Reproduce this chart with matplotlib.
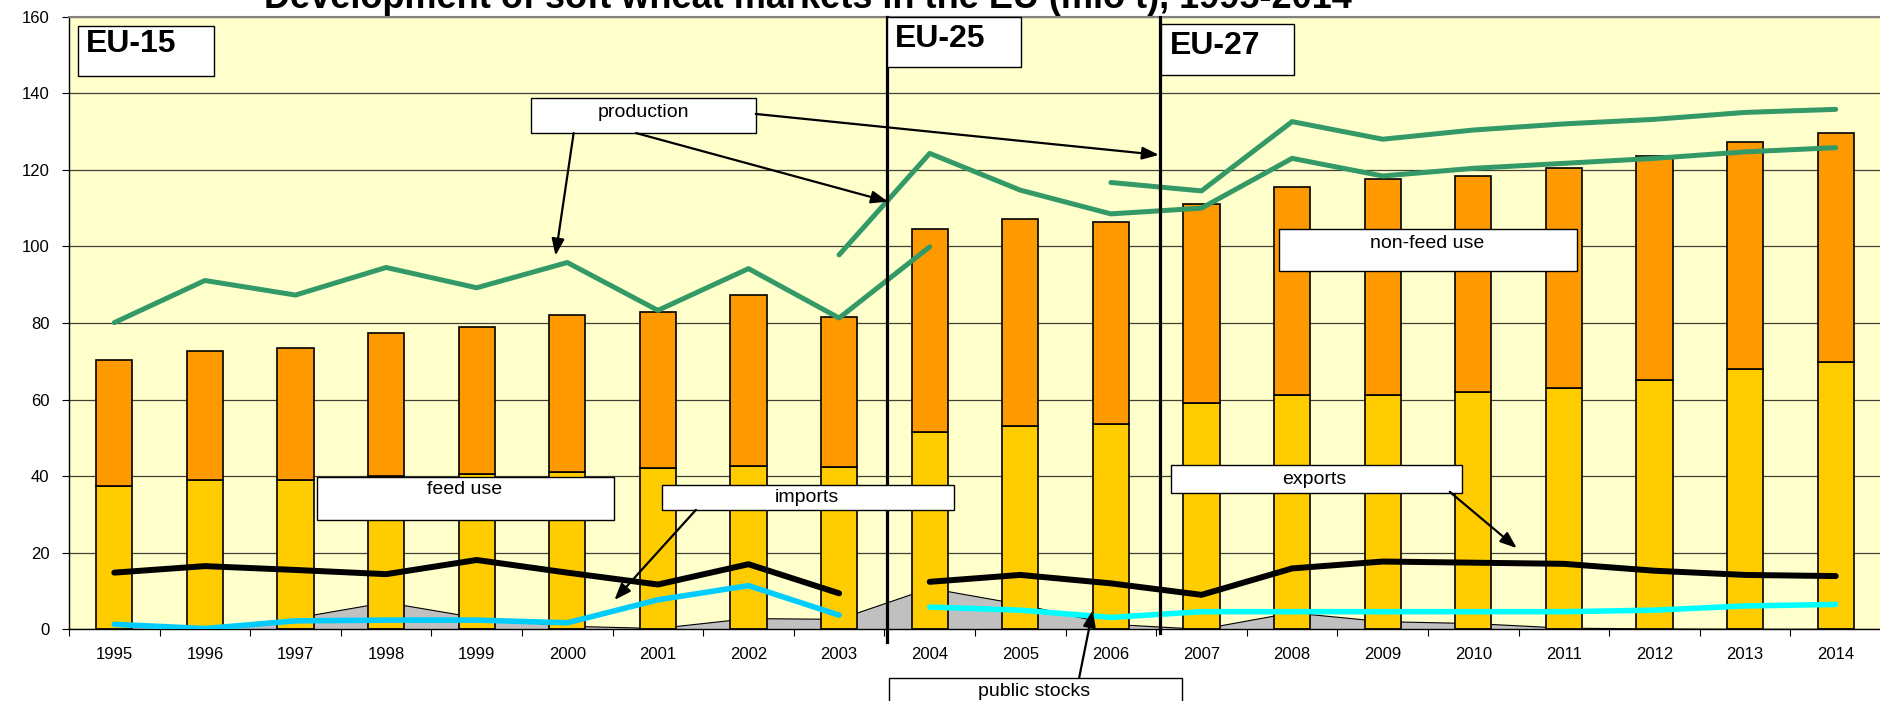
import numpy as np
import matplotlib
matplotlib.use("Agg")
import matplotlib.pyplot as plt
from matplotlib.patches import Rectangle

plt.rcParams['font.family'] = ['Liberation Sans', 'DejaVu Sans']

years = [str(y) for y in range(1995, 2015)]
feed_use = [37.5, 39.0, 39.0, 40.0, 40.5, 41.0, 42.0, 42.7, 42.5, 51.5,
            53.0, 53.5, 59.0, 61.3, 61.3, 62.0, 63.0, 65.0, 68.0, 69.8]
nonfeed_use = [32.9, 33.7, 34.5, 37.5, 38.5, 41.2, 41.0, 44.5, 39.1, 53.0,
               54.1, 52.8, 52.0, 54.3, 56.2, 56.4, 57.6, 58.5, 59.3, 59.7]
public_stocks = [0.0, 0.0, 2.9, 7.0, 3.0, 0.8, 0.2, 2.8, 2.6, 10.7,
                 6.5, 1.3, 0.0, 4.3, 2.0, 1.5, 0.3, 0.1, 0.0, 0.0]

prod_eu15 = [80.1, 91.1, 87.3, 94.5, 89.2, 95.8, 83.3, 94.2, 81.3, 99.9]   # 1995-2004
prod_eu25 = [97.8, 124.3, 114.7, 108.5, 110.0, 123.0, 118.4, 120.4,
             121.7, 123.0, 124.7, 125.8]                                   # 2003-2014
prod_eu27 = [116.7, 114.5, 132.6, 128.0, 130.4, 132.0, 133.2, 135.0, 135.8]  # 2006-2014

exports_eu15 = [14.8, 16.5, 15.5, 14.4, 18.1, 14.8, 11.7, 17.0, 9.4]      # 1995-2003
exports_eu27 = [12.4, 14.2, 12.0, 9.0, 15.9, 17.7, 17.4, 17.1, 15.3, 14.2, 13.9]  # 2004-2014
imports_eu15 = [1.3, 0.2, 2.2, 2.4, 2.4, 1.7, 7.7, 11.4, 3.7]
imports_eu27 = [5.8, 5.0, 3.1, 4.6, 4.6, 4.6, 4.6, 4.6, 5.0, 6.1, 6.5]

x = np.arange(len(years))

fig = plt.figure(figsize=(18.81, 7.01), dpi=100)
ax = fig.add_axes([69 / 1881, 1 - 629.3 / 701, 1 - 69 / 1881, (629.3 - 16.7) / 701])
ax.set_facecolor('#FFFFCC')

# public stocks area (behind bars)
ax.fill_between(x, public_stocks, 0, facecolor='#C0C0C0', edgecolor='none', zorder=1)
ax.plot(x, public_stocks, color='black', lw=0.8, zorder=1.1)

# stacked bars
ax.bar(x, feed_use, width=0.4, color='#FFCC00', edgecolor='black', lw=1.2, zorder=2)
ax.bar(x, nonfeed_use, width=0.4, bottom=feed_use, color='#FF9900',
       edgecolor='black', lw=1.2, zorder=2)

# lines
green = '#339966'
ax.plot(x[0:10], prod_eu15, color=green, lw=3.6, solid_capstyle='round', zorder=3)
ax.plot(x[8:], prod_eu25, color=green, lw=3.6, solid_capstyle='round', zorder=3)
ax.plot(x[11:], prod_eu27, color=green, lw=3.6, solid_capstyle='round', zorder=3)
ax.plot(x[0:9], exports_eu15, color='black', lw=4.3, solid_capstyle='round', zorder=3)
ax.plot(x[9:], exports_eu27, color='black', lw=4.3, solid_capstyle='round', zorder=3)
ax.plot(x[0:9], imports_eu15, color='#00CCFF', lw=4.0, solid_capstyle='round', zorder=3)
ax.plot(x[9:], imports_eu27, color='#00FFFF', lw=4.0, solid_capstyle='round', zorder=3)

# enlargement separators
ax.plot([8.53, 8.53], [160, -3.2], color='black', lw=2.3, zorder=4, clip_on=False)
ax.plot([11.54, 11.54], [160, -0.9], color='black', lw=2.3, zorder=4, clip_on=False)

ax.set_xlim(-0.5, 19.48)
ax.set_ylim(0, 160)
ax.set_yticks(range(0, 161, 20))
ax.yaxis.grid(True, color='#404035', lw=0.9)
ax.set_axisbelow(True)
ax.tick_params(axis='y', direction='out', length=5, width=0.8, pad=9, labelsize=12)

ax.set_xticks(np.arange(-0.5, 19.6, 1.0))
ax.set_xticklabels([])
ax.set_xticks(x, minor=True)
ax.set_xticklabels(years, minor=True)
ax.tick_params(axis='x', which='major', direction='out', length=5, width=0.8)
ax.tick_params(axis='x', which='minor', length=0, pad=13, labelsize=12)

for s in ['left', 'bottom']:
    ax.spines[s].set_color('black')
    ax.spines[s].set_linewidth(1.0)
ax.spines['top'].set_color('#808080')
ax.spines['top'].set_linewidth(1.5)
ax.spines['right'].set_visible(False)


def box(x0, x1, y0, y1, label, tx, ty, size=14, weight='normal', ha='center'):
    ax.add_patch(Rectangle((x0, y0), x1 - x0, y1 - y0, facecolor='white',
                           edgecolor='black', lw=1.0, zorder=5, clip_on=False))
    ax.text(tx, ty, label, ha=ha, va='center', fontsize=size, fontweight=weight,
            zorder=6, clip_on=False)


box(-0.405, 1.095, 144.5, 157.6, 'EU-15', -0.31, 152.8, size=23, weight='bold', ha='left')
box(8.53, 10.01, 146.8, 159.9, 'EU-25', 8.62, 154.3, size=23, weight='bold', ha='left')
box(11.55, 13.02, 144.7, 158.0, 'EU-27', 11.65, 152.4, size=23, weight='bold', ha='left')
box(4.60, 7.08, 129.6, 138.8, 'production', 5.84, 134.9)
box(2.24, 5.51, 28.5, 39.85, 'feed use', 3.865, 36.4)
box(6.05, 9.27, 31.2, 37.7, 'imports', 7.64, 34.3)
box(11.66, 14.87, 35.5, 42.9, 'exports', 13.25, 39.25)
box(12.86, 16.14, 93.6, 104.6, 'non-feed use', 14.49, 100.8)
box(8.55, 11.78, -25.0, -12.6, 'public stocks', 10.15, -16.3)

arrows = [((5.07, 129.6), (4.87, 97.6)),
          ((5.76, 129.6), (8.54, 111.7)),
          ((7.08, 134.6), (11.53, 123.9)),
          ((6.42, 31.2), (5.52, 7.65)),
          ((14.74, 35.9), (15.48, 21.2)),
          ((10.65, -12.6), (10.80, 5.0))]
for start, end in arrows:
    ax.annotate('', xy=end, xytext=start, zorder=7, annotation_clip=False,
                arrowprops=dict(arrowstyle='-|>,head_length=1.0,head_width=0.38',
                                color='black', lw=1.6, shrinkA=0, shrinkB=0))

fig.text(807.5 / 1881, 1 - 7.5 / 701,
         'Development of soft wheat markets in the EU (mio t), 1995-2014',
         ha='center', va='baseline', fontsize=26, fontweight='bold')

fig.savefig('out.png', dpi=100)
